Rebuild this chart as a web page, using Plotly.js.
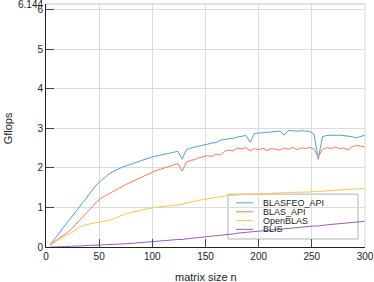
<!DOCTYPE html>
<html>
<head>
<meta charset="utf-8">
<script src="https://cdn.plot.ly/plotly-3.0.1.min.js"></script>
<style>html,body{margin:0;padding:0;background:#fff;}#chart{width:374px;height:282px;}</style>
</head>
<body>
<div id="chart"></div>
<script>
const matrixSize = [4,8,12,16,20,24,28,32,36,40,44,48,52,56,60,64,68,72,76,80,84,88,92,96,100,104,108,112,116,120,124,128,132,136,140,144,148,152,156,160,164,168,172,176,180,184,188,192,196,200,204,208,212,216,220,224,228,232,236,240,244,248,252,256,260,264,268,272,276,280,284,288,292,296,300];

const blasfeoApi = [0.06,0.20,0.33,0.46,0.60,0.74,0.89,1.03,1.18,1.33,1.45,1.59,1.68,1.77,1.86,1.92,1.98,2.02,2.06,2.10,2.14,2.17,2.21,2.24,2.28,2.30,2.33,2.35,2.37,2.39,2.42,2.22,2.46,2.50,2.53,2.55,2.58,2.60,2.63,2.64,2.70,2.72,2.73,2.75,2.78,2.80,2.82,2.65,2.87,2.88,2.89,2.90,2.91,2.92,2.93,2.83,2.95,2.94,2.93,2.94,2.93,2.92,2.86,2.22,2.79,2.82,2.83,2.82,2.83,2.82,2.80,2.79,2.76,2.80,2.83];

const blasApi = [0.05,0.14,0.22,0.29,0.36,0.46,0.57,0.69,0.80,0.92,1.03,1.15,1.24,1.30,1.36,1.42,1.49,1.54,1.59,1.64,1.69,1.74,1.79,1.85,1.90,1.94,1.97,2.01,2.05,2.08,2.11,1.92,2.15,2.19,2.21,2.26,2.28,2.31,2.29,2.35,2.32,2.42,2.45,2.43,2.50,2.48,2.51,2.43,2.49,2.46,2.50,2.44,2.49,2.47,2.45,2.50,2.47,2.52,2.46,2.51,2.49,2.52,2.48,2.28,2.47,2.51,2.49,2.53,2.48,2.50,2.45,2.54,2.57,2.55,2.53];

const openBlas = [0.04,0.12,0.19,0.25,0.30,0.36,0.44,0.51,0.55,0.58,0.60,0.62,0.64,0.66,0.68,0.72,0.77,0.82,0.85,0.87,0.90,0.93,0.95,0.97,0.99,1.00,1.02,1.03,1.04,1.05,1.07,1.08,1.11,1.14,1.16,1.18,1.20,1.22,1.24,1.26,1.27,1.29,1.30,1.31,1.32,1.33,1.33,1.34,1.34,1.34,1.35,1.35,1.36,1.36,1.37,1.37,1.38,1.38,1.38,1.39,1.39,1.39,1.40,1.40,1.41,1.42,1.43,1.44,1.44,1.45,1.46,1.46,1.47,1.48,1.48];

const blis = [0.00,0.00,0.01,0.01,0.01,0.02,0.02,0.03,0.03,0.04,0.04,0.05,0.05,0.06,0.06,0.07,0.07,0.08,0.08,0.09,0.10,0.11,0.11,0.12,0.13,0.14,0.15,0.16,0.17,0.18,0.19,0.19,0.21,0.22,0.23,0.24,0.25,0.26,0.27,0.28,0.29,0.31,0.32,0.33,0.35,0.36,0.37,0.38,0.40,0.41,0.42,0.43,0.44,0.45,0.46,0.47,0.48,0.49,0.50,0.51,0.52,0.52,0.53,0.53,0.55,0.56,0.57,0.58,0.59,0.60,0.61,0.62,0.63,0.64,0.65];

const seriesNames = ['BLASFEO_API','BLAS_API','OpenBLAS','BLIS'];
const seriesColors = ['#4f9fdb','#ee7d5c','#f5c850','#9d5bb8'];
const seriesData = [blasfeoApi, blasApi, openBlas, blis];

const yMax = 6.144;
const yTickVals = [0,1,2,3,4,5,6,yMax];
const yTickText = ['0','1','2','3','4','5','6',''];
const yMaxLabel = '6.144';
const xTickVals = [0,50,100,150,200,250,300];

const FONT = 'Liberation Sans, Arial, sans-serif';

const traces = seriesData.map((d,i)=>({
  x: matrixSize, y: d, type:'scatter', mode:'lines', name: seriesNames[i],
  line:{color: seriesColors[i], width:1}, showlegend:false
}));

// manual legend (compact spacing)
const legX0 = 0.5705, legX1 = 0.978, legY0 = 0.033, legY1 = 0.2175;
const shapes = [
  {type:'rect', xref:'paper', yref:'paper', x0:legX0, x1:legX1, y0:legY0, y1:legY1,
   line:{color:'#b0b0b0', width:1}, fillcolor:'#ffffff', layer:'between'},
  {type:'line', xref:'paper', yref:'paper', x0:0, x1:1, y0:1, y1:1, line:{color:'#d8d8d8', width:1.5}},
  {type:'line', xref:'paper', yref:'paper', x0:1, x1:1, y0:0, y1:1, line:{color:'#d8d8d8', width:1}}
];
const annotations = [];
const legRowsPx = [202.7, 211.7, 220.6, 229.3];
legRowsPx.forEach((py,i)=>{
  const yp = (247 - py)/243.7;
  shapes.push({type:'line', xref:'paper', yref:'paper', x0:(236-46)/319, x1:(253-46)/319, y0:yp, y1:yp,
    line:{color: seriesColors[i], width:1}});
  annotations.push({xref:'paper', yref:'paper', x:(261-46)/319, y:yp, xanchor:'left', yanchor:'middle',
    text: seriesNames[i], showarrow:false, font:{family:FONT, size:9, color:'#222'}});
});
annotations.push({xref:'paper', yref:'y', x:(44-46)/319, y:yMax, xanchor:'right', yanchor:'middle',
  text: yMaxLabel, showarrow:false, font:{family:FONT, size:10, color:'#222'}, borderpad:0});
annotations.push({xref:'paper', yref:'paper', x:0.5, y:(247-277.5)/243.7, xanchor:'center', yanchor:'middle',
  text:'matrix size n', showarrow:false, font:{family:FONT, size:11, color:'#222'}});
annotations.push({xref:'paper', yref:'paper', x:(8-46)/319, y:(247-128)/243.7, xanchor:'center', yanchor:'middle',
  text:'Gflops', textangle:-90, showarrow:false, font:{family:FONT, size:11, color:'#222'}});

const layout = {
  width:374, height:282,
  margin:{l:46, r:9, t:4, b:35, pad:0},
  paper_bgcolor:'#fff', plot_bgcolor:'#fff',
  font:{family:FONT, size:10, color:'#222'},
  showlegend:false,
  xaxis:{range:[0,300], tickvals:xTickVals, showgrid:true, gridcolor:'#dcdcdc', gridwidth:1,
    zeroline:false, showline:true, linecolor:'#222', linewidth:1,
    ticks:'inside', ticklen:8, tickcolor:'#444', tickwidth:1, tickfont:{family:FONT,size:10,color:'#222'}},
  yaxis:{range:[0,6.1445], tickvals:yTickVals, ticktext:yTickText, showgrid:true, gridcolor:'#dcdcdc', gridwidth:1,
    zeroline:false, showline:true, linecolor:'#222', linewidth:1,
    ticks:'inside', ticklen:8, tickcolor:'#444', tickwidth:1, tickfont:{family:FONT,size:10,color:'#222'}},
  shapes: shapes,
  annotations: annotations
};

Plotly.newPlot('chart', traces, layout, {staticPlot:true, displayModeBar:false});
</script>
</body>
</html>
